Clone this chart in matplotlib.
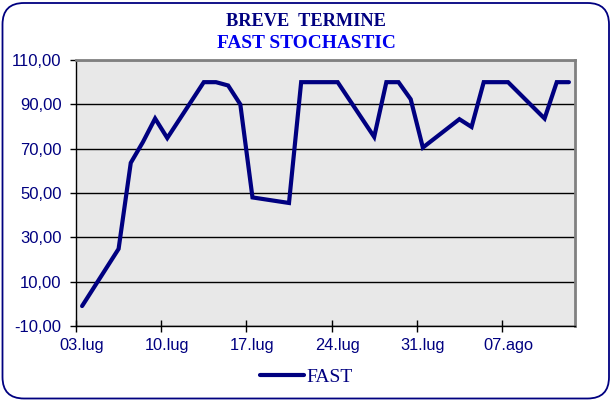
import matplotlib
matplotlib.use("Agg")
import matplotlib.pyplot as plt
import matplotlib.dates as mdates
from matplotlib.patches import FancyBboxPatch
import pandas as pd

dates = ["2009-07-03", "2009-07-06", "2009-07-07", "2009-07-08", "2009-07-09",
         "2009-07-10", "2009-07-13", "2009-07-14", "2009-07-15", "2009-07-16",
         "2009-07-17", "2009-07-20", "2009-07-21", "2009-07-22", "2009-07-23",
         "2009-07-24", "2009-07-27", "2009-07-28", "2009-07-29", "2009-07-30",
         "2009-07-31", "2009-08-03", "2009-08-04", "2009-08-05", "2009-08-06",
         "2009-08-07", "2009-08-10", "2009-08-11", "2009-08-12"]
fast = [-1.0, 24.8, 63.6, 73.0, 83.6,
        74.8, 100.0, 100.0, 98.5, 90.0,
        48.0, 45.5, 100.0, 100.0, 100.0,
        100.0, 75.3, 100.0, 100.0, 92.3,
        70.5, 83.3, 79.8, 100.0, 100.0,
        100.0, 83.6, 100.0, 100.0]
tick_dates = ["2009-07-03", "2009-07-10", "2009-07-17", "2009-07-24", "2009-07-31", "2009-08-07"]
tick_labels = ["03.lug", "10.lug", "17.lug", "24.lug", "31.lug", "07.ago"]
y_ticks = [-10, 10, 30, 50, 70, 90, 110]
title1 = "BREVE  TERMINE"
title2 = "FAST STOCHASTIC"
series_name = "FAST"

NAVY = "#000080"

fig = plt.figure(figsize=(6.12, 4.01), dpi=100)
fig.patch.set_facecolor("white")

border = FancyBboxPatch((2.5 / 612, 2.5 / 401), 1 - 5.5 / 612, 1 - 5.5 / 401,
                        boxstyle="round,pad=0,rounding_size=0.035",
                        transform=fig.transFigure, facecolor="none",
                        edgecolor=NAVY, linewidth=1.3, zorder=5,
                        mutation_aspect=612 / 401)
fig.patches.append(border)

ax = fig.add_axes([76 / 612, 1 - 326 / 401, (575 - 76) / 612, (326 - 60) / 401])
ax.set_facecolor("#E8E8E8")

x = mdates.date2num(pd.to_datetime(dates))
ax.plot(x, fast, color=NAVY, linewidth=3.0, solid_joinstyle="miter",
        solid_capstyle="round", label=series_name, zorder=3)

x0 = mdates.date2num(pd.Timestamp(dates[0]))
x1 = mdates.date2num(pd.Timestamp(dates[-1]))
ax.set_xlim(x0 - 0.5, x1 + 0.5)
ax.set_ylim(-10, 110)

tcenters = mdates.date2num(pd.to_datetime(tick_dates))
ax.set_xticks(tcenters - 0.5)
ax.set_xticklabels([])
ax.set_xticks(tcenters, minor=True)
ax.set_xticklabels(tick_labels, minor=True)
ax.set_yticks(y_ticks)
ax.set_yticklabels([f"{v:.2f}".replace(".", ",") for v in y_ticks])

ax.grid(axis="y", color="black", linewidth=1.0, zorder=1)
ax.set_axisbelow(True)

for side in ["top", "right"]:
    ax.spines[side].set_color("#808080")
    ax.spines[side].set_linewidth(2.0)
for side in ["left", "bottom"]:
    ax.spines[side].set_color("black")
    ax.spines[side].set_linewidth(1.0)

ax.tick_params(axis="y", direction="out", length=4, width=1, color="black",
               labelcolor=NAVY, labelsize=12, pad=6.5)
ax.tick_params(axis="x", which="major", direction="inout", length=9, width=1,
               color="black")
ax.tick_params(axis="x", which="minor", length=0, labelcolor=NAVY,
               labelsize=11.8, pad=8.5)
for lab in (ax.get_xticklabels(minor=True) + ax.get_yticklabels()):
    lab.set_fontfamily("Liberation Sans")

fig.text(0.5, 1 - 22 / 401, title1, ha="center", va="center",
         fontfamily="Liberation Serif", fontweight="bold", fontsize=13.2, color=NAVY)
fig.text(0.5, 1 - 43 / 401, title2, ha="center", va="center",
         fontfamily="Liberation Serif", fontweight="bold", fontsize=13.9, color="#0000EE")

leg = fig.legend(loc="center", bbox_to_anchor=(306 / 612, 1 - 377 / 401),
                 frameon=False, handlelength=2.3, handletextpad=0.1,
                 prop={"family": "Liberation Serif", "size": 14})
for t in leg.get_texts():
    t.set_color(NAVY)

fig.savefig("out.png", dpi=100, facecolor="white")
